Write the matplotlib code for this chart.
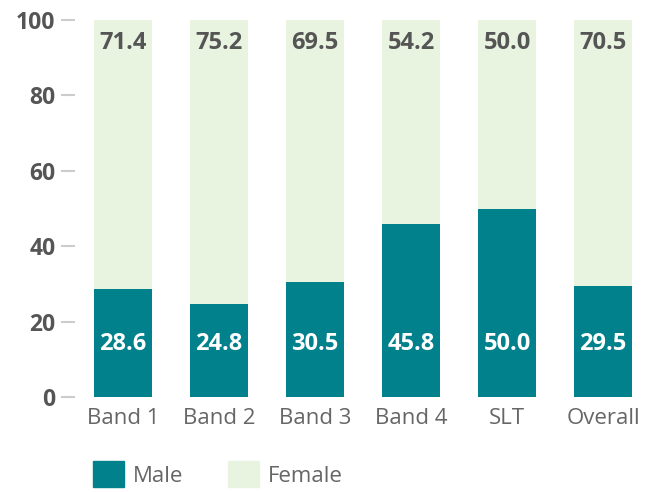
import matplotlib.pyplot as plt
from matplotlib.patches import Patch

categories = ['Band 1', 'Band 2', 'Band 3', 'Band 4', 'SLT', 'Overall']
male = [28.6, 24.8, 30.5, 45.8, 50.0, 29.5]
female = [71.4, 75.2, 69.5, 54.2, 50.0, 70.5]

teal = '#00818B'
light = '#E8F4E0'
dark = '#555555'

plt.rcParams['font.family'] = ['Open Sans', 'DejaVu Sans']

fig = plt.figure(figsize=(6.56, 4.92), dpi=100)
ax = fig.add_axes([75 / 656, 95 / 492, 576 / 656, 377 / 492])

x = range(len(categories))
ax.bar(x, male, width=0.6, color=teal)
ax.bar(x, female, width=0.6, bottom=male, color=light)

for i in x:
    ax.text(i, 14, '{:.1f}'.format(male[i]), ha='center', va='center',
            color='white', fontsize=17, fontweight='bold')
    ax.text(i, 94, '{:.1f}'.format(female[i]), ha='center', va='center',
            color=dark, fontsize=17, fontweight='bold')

ax.set_xlim(-0.5, 5.5)
ax.set_ylim(0, 100)
ax.set_yticks([0, 20, 40, 60, 80, 100])
ax.set_xticks(list(x))
ax.set_xticklabels(categories, fontsize=16, color='#666666')
ax.tick_params(axis='x', length=0, pad=8)
ax.tick_params(axis='y', length=10, width=1.5, color='#cccccc', pad=4,
               labelsize=16.5, labelcolor=dark)
for lbl in ax.get_yticklabels():
    lbl.set_fontweight('bold')
for s in ax.spines.values():
    s.set_visible(False)

handles = [Patch(color=teal, label='Male'), Patch(color=light, label='Female')]
fig.legend(handles=handles, loc='lower left', bbox_to_anchor=(93 / 656, 5 / 492),
           ncol=2, frameon=False, fontsize=16, handlelength=1.4, handleheight=1.4,
           columnspacing=2.0, handletextpad=0.4, borderpad=0, borderaxespad=0,
           labelcolor='#666666')

fig.savefig('out.png', dpi=100)
